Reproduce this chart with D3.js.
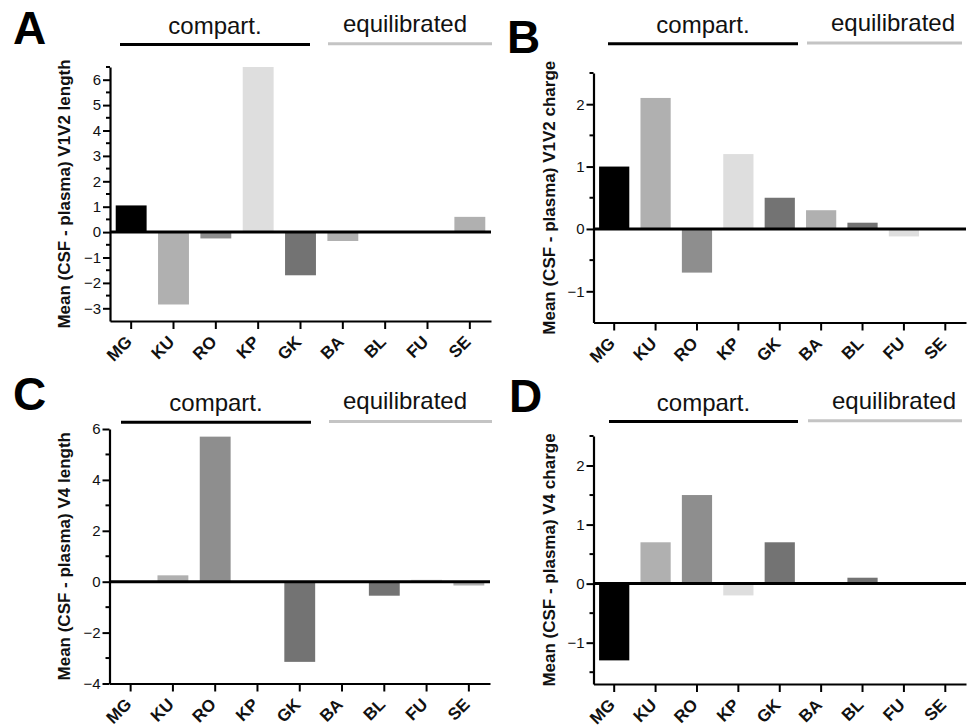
<!DOCTYPE html>
<html>
<head>
<meta charset="utf-8">
<script src="https://cdn.jsdelivr.net/npm/d3@7"></script>
<style>
body { margin: 0; background: #fff; }
svg { font-family: "Liberation Sans", Arial, sans-serif; }
</style>
</head>
<body>
<div id="chart"></div>
<script>
var categories = ["MG", "KU", "RO", "KP", "GK", "BA", "BL", "FU", "SE"];
var barColors = ["#000000", "#b0b0b0", "#8e8e8e", "#dedede", "#737373",
		"#b0b0b0", "#737373", "#dedede", "#b0b0b0"];

var v1v2Length = [1.05, -2.85, -0.25, 6.5, -1.7, -0.35, 0, 0, 0.6];
var v1v2Charge = [1.0, 2.1, -0.7, 1.2, 0.5, 0.3, 0.1, -0.12, 0];
var v4Length = [0, 0.25, 5.7, 0, -3.15, 0, -0.55, 0.08, -0.15];
var v4Charge = [-1.3, 0.7, 1.5, -0.2, 0.7, 0, 0.1, 0, 0];

var groupLabels = ["compart.", "equilibrated"];

var FONT = "'Liberation Sans', Arial, sans-serif";

var svg = d3.select("#chart").append("svg").attr("width", 969).attr(
		"height", 728);

function drawPanel(values, opts) {
	var g = svg.append("g");

	var x = d3.scaleBand().domain(categories).range([ opts.left, opts.right ])
			.paddingInner(0.27).paddingOuter(0.135);
	var y = d3.scaleLinear().domain(opts.domain).range(
			[ opts.bottom, opts.top ]);

	var data = categories.map(function(c, i) {
		return {
			cat : c,
			value : values[i],
			color : barColors[i]
		};
	});

	g.selectAll("rect.bar").data(data).enter().append("rect").attr("class",
			"bar").attr("x", function(d) {
		return x(d.cat);
	}).attr("width", x.bandwidth()).attr("y", function(d) {
		return y(Math.max(0, d.value));
	}).attr("height", function(d) {
		return Math.abs(y(d.value) - y(0));
	}).attr("fill", function(d) {
		return d.color;
	});

	// zero line
	g.append("line").attr("x1", opts.left).attr("x2", opts.right).attr("y1",
			y(0)).attr("y2", y(0)).attr("stroke", "#000").attr("stroke-width",
			3);

	// y axis, labelled major ticks + short minor ticks
	var yAxis = g.append("g").attr("transform",
			"translate(" + opts.left + ",0)").call(
			d3.axisLeft(y).tickValues(opts.majorTicks).tickSize(7)
					.tickSizeOuter(0).tickFormat(d3.format("d")));
	yAxis.attr("font-family", FONT);
	yAxis.select(".domain").attr("stroke-width", 2.2);
	yAxis.selectAll(".tick line").attr("stroke-width", 2);
	yAxis.selectAll(".tick text").attr("font-size", 15).attr("x", -9).attr(
			"fill", "#111");

	g.selectAll("line.minor").data(opts.minorTicks).enter().append("line")
			.attr("class", "minor").attr("x1", opts.left - 4).attr("x2",
					opts.left).attr("y1", function(d) {
				return y(d);
			}).attr("y2", function(d) {
				return y(d);
			}).attr("stroke", "#000").attr("stroke-width", 2);

	// x axis at the bottom
	var xAxis = g.append("g").attr("transform",
			"translate(0," + opts.bottom + ")").call(
			d3.axisBottom(x).tickSize(8).tickSizeOuter(0));
	xAxis.attr("font-family", FONT);
	xAxis.select(".domain").attr("stroke-width", 2.2);
	xAxis.selectAll(".tick line").attr("stroke-width", 2);
	xAxis.selectAll(".tick text").attr("font-size", 17).attr("font-weight",
			"bold").attr("fill", "#111").attr("text-anchor", "end").attr("dy",
			null).attr("y", null).attr("transform",
			"translate(2,22) rotate(-45)");

	// y label
	g.append("text").attr("transform",
			"translate(" + opts.labelX + "," + (opts.top + opts.bottom) / 2
					+ ") rotate(-90)").attr("text-anchor", "middle").attr(
			"font-size", 17).attr("font-weight", "bold").attr("fill", "#111")
			.text(opts.yLabel);

	// panel letter
	g.append("text").attr("x", opts.letterX).attr("y", opts.letterY).attr(
			"font-size", 46).attr("font-weight", "bold").text(opts.letter);

	// group headers with underlines
	var h = opts.header;
	g.append("line").attr("x1", h.blackX[0]).attr("x2", h.blackX[1]).attr(
			"y1", h.lineY).attr("y2", h.lineY).attr("stroke", "#000").attr(
			"stroke-width", 3);
	g.append("line").attr("x1", h.grayX[0]).attr("x2", h.grayX[1]).attr("y1",
			h.lineY - 0.7).attr("y2", h.lineY - 0.7).attr("stroke", "#c4c4c4")
			.attr("stroke-width", 3);
	g.append("text").attr("x", (h.blackX[0] + h.blackX[1]) / 2).attr("y",
			h.lineY - 11).attr("text-anchor", "middle").attr("font-size", 24)
			.attr("fill", "#111").text(groupLabels[0]);
	g.append("text").attr("x", h.textX2).attr("y", h.lineY - 13).attr(
			"text-anchor", "middle").attr("font-size", 24).attr("fill",
			"#111").text(groupLabels[1]);
}

drawPanel(v1v2Length, {
	left : 110,
	right : 491,
	top : 67,
	bottom : 321,
	domain : [ -3.5, 6.5 ],
	majorTicks : [ -3, -2, -1, 0, 1, 2, 3, 4, 5, 6 ],
	minorTicks : [ -2.5, -1.5, -0.5, 0.5, 1.5, 2.5, 3.5, 4.5, 5.5, 6.5 ],
	yLabel : "Mean (CSF - plasma) V1V2 length",
	labelX : 70,
	letter : "A",
	letterX : 13,
	letterY : 44,
	header : {
		blackX : [ 120, 310 ],
		grayX : [ 328, 492 ],
		lineY : 44.5,
		textX2 : 405
	}
});

drawPanel(v1v2Charge, {
	left : 593.5,
	right : 966,
	top : 73,
	bottom : 322.5,
	domain : [ -1.5, 2.5 ],
	majorTicks : [ -1, 0, 1, 2 ],
	minorTicks : [ -0.5, 0.5, 1.5, 2.5 ],
	yLabel : "Mean (CSF - plasma) V1V2 charge",
	labelX : 555,
	letter : "B",
	letterX : 507,
	letterY : 53,
	header : {
		blackX : [ 608, 798 ],
		grayX : [ 807, 962 ],
		lineY : 43.7,
		textX2 : 893
	}
});

drawPanel(v4Length, {
	left : 109.5,
	right : 490,
	top : 429,
	bottom : 683.5,
	domain : [ -4, 6 ],
	majorTicks : [ -4, -2, 0, 2, 4, 6 ],
	minorTicks : [ -3, -1, 1, 3, 5 ],
	yLabel : "Mean (CSF - plasma) V4 length",
	labelX : 70,
	letter : "C",
	letterX : 13,
	letterY : 410,
	header : {
		blackX : [ 121, 311 ],
		grayX : [ 329, 492 ],
		lineY : 422.3,
		textX2 : 405
	}
});

drawPanel(v4Charge, {
	left : 593.5,
	right : 966,
	top : 436,
	bottom : 684,
	domain : [ -1.7, 2.5 ],
	majorTicks : [ -1, 0, 1, 2 ],
	minorTicks : [ -1.5, -0.5, 0.5, 1.5, 2.5 ],
	yLabel : "Mean (CSF - plasma) V4 charge",
	labelX : 555,
	letter : "D",
	letterX : 509,
	letterY : 412,
	header : {
		blackX : [ 609, 798 ],
		grayX : [ 808, 962 ],
		lineY : 421.5,
		textX2 : 894
	}
});
</script>
</body>
</html>
